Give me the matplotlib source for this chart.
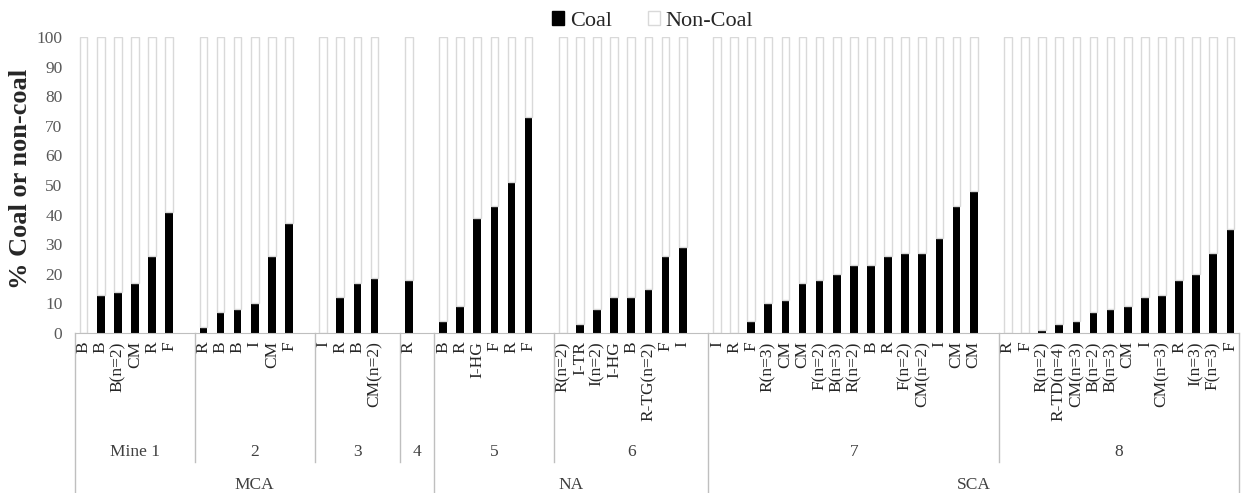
"""
Porcentaje de carbón / no carbón por muestra, agrupado por mina y región.
Gráfico de barras apiladas con eje de categorías de dos niveles (mina, región).
"""

import matplotlib.pyplot as plt
from matplotlib.patches import Patch

plt.rcParams['font.family'] = ['Liberation Serif', 'DejaVu Serif']

# --- Datos ---
minas = ['Mine 1', '2', '3', '4', '5', '6', '7', '8']
regiones = ['MCA', 'NA', 'SCA']
minas_por_region = [4, 2, 2]

etiquetas = [
    ['B', 'B', 'B(n=2)', 'CM', 'R', 'F'],
    ['R', 'B', 'B', 'I', 'CM', 'F'],
    ['I', 'R', 'B', 'CM(n=2)'],
    ['R'],
    ['B', 'R', 'I-HG', 'F', 'R', 'F'],
    ['R(n=2)', 'I-TR', 'I(n=2)', 'I-HG', 'B', 'R-TG(n=2)', 'F', 'I'],
    ['I', 'R', 'F', 'R(n=3)', 'CM', 'CM', 'F(n=2)', 'B(n=3)', 'R(n=2)', 'B',
     'R', 'F(n=2)', 'CM(n=2)', 'I', 'CM', 'CM'],
    ['R', 'F', 'R(n=2)', 'R-TD(n=4)', 'CM(n=3)', 'B(n=2)', 'B(n=3)', 'CM', 'I',
     'CM(n=3)', 'R', 'I(n=3)', 'F(n=3)', 'F'],
]

carbon = [
    [0, 13, 14, 17, 26, 41],
    [2, 7, 8, 10, 26, 37],
    [0, 12, 17, 18.5],
    [18],
    [4, 9, 39, 43, 51, 73],
    [0, 3, 8, 12, 12, 15, 26, 29],
    [0, 0, 4, 10, 11, 17, 18, 20, 23, 23, 26, 27, 27, 32, 43, 48],
    [0, 0, 1, 3, 4, 7, 8, 9, 12, 13, 18, 20, 27, 35],
]

# --- Posiciones: un hueco vacío después de cada mina ---
xs, etiq, coal = [], [], []
bordes = []          # límite derecho de cada mina (después del hueco)
pos = 0
for i, (lab, val) in enumerate(zip(etiquetas, carbon)):
    for l, v in zip(lab, val):
        xs.append(pos)
        etiq.append(l)
        coal.append(v)
        pos += 1
    if i < len(etiquetas) - 1:
        pos += 1
    bordes.append(pos - 0.5)
no_coal = [100 - v for v in coal]
inicio = -0.5

# --- Figura ---
fig = plt.figure(figsize=(12.43, 4.93), dpi=100)
ax = fig.add_axes([75 / 1243, 1 - 333 / 493, 1164 / 1243, 296 / 493])

ancho = 0.45
ax.bar(xs, coal, width=ancho, color='black', linewidth=0)
ax.bar(xs, no_coal, bottom=coal, width=ancho, color='white',
       edgecolor='#d9d9d9', linewidth=1.0)

ax.set_xlim(inicio, bordes[-1])
ax.set_ylim(0, 100)
ax.set_yticks(range(0, 101, 10))
ax.tick_params(axis='y', length=0, pad=9, labelsize=12.5, labelcolor='#595959')
ax.set_xticks(xs, etiq, rotation=90, va='top', ha='center')
ax.tick_params(axis='x', length=0, pad=6, labelsize=12.5, labelcolor='#262626')

for s in ['top', 'right', 'left']:
    ax.spines[s].set_visible(False)
ax.spines['bottom'].set_color('#bfbfbf')

ax.set_ylabel('% Coal or non-coal', fontsize=19, fontweight='bold', color='#262626')
ax.yaxis.set_label_coords(-0.037, 0.52)

# --- Eje de categorías de dos niveles ---
trans = ax.get_xaxis_transform()
y_mina = (333 - 462) / 296
y_fondo = (333 - 493) / 296
y_txt_mina = (333 - 452) / 296
y_txt_region = (333 - 485) / 296
color_lin = '#bfbfbf'

# separadores entre minas y entre regiones
fin_region = []
k = 0
for n in minas_por_region:
    k += n
    fin_region.append(k - 1)
for i, b in enumerate(bordes):
    y_bajo = y_fondo if i in fin_region else y_mina
    ax.plot([b, b], [0, y_bajo], transform=trans, color=color_lin,
            linewidth=1, clip_on=False)
ax.plot([inicio, inicio], [0, y_fondo], transform=trans, color=color_lin,
        linewidth=1, clip_on=False)

# nombres de mina
izq = inicio
for nombre, b in zip(minas, bordes):
    ax.text((izq + b) / 2, y_txt_mina, nombre, transform=trans, ha='center',
            va='center', fontsize=12.5, color='#404040')
    izq = b

# nombres de región
izq = inicio
for nombre, j in zip(regiones, fin_region):
    der = bordes[j]
    ax.text((izq + der) / 2, y_txt_region, nombre, transform=trans,
            ha='center', va='center', fontsize=12.5, color='#404040')
    izq = der

# --- Leyenda ---
handles = [Patch(facecolor='black', edgecolor='black', label='Coal'),
           Patch(facecolor='white', edgecolor='#d9d9d9', label='Non-Coal')]
fig.legend(handles=handles, loc='center', bbox_to_anchor=(0.525, 0.957),
           ncol=2, frameon=False, fontsize=16, handlelength=0.55,
           handleheight=0.55, handletextpad=0.25, columnspacing=1.6,
           labelcolor='#262626')

plt.savefig('out.png', dpi=100)
